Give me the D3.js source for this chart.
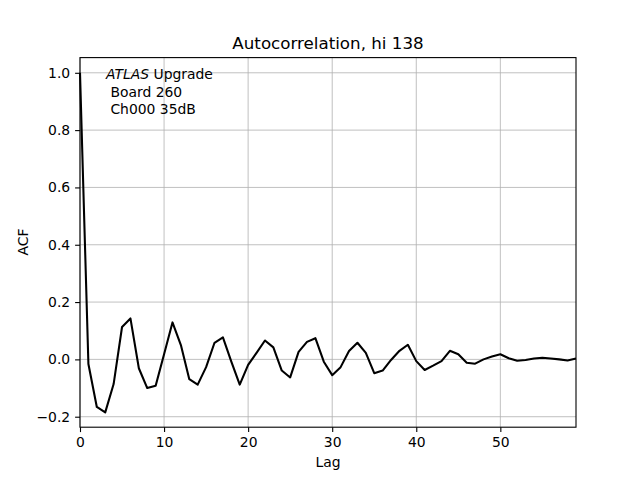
<!DOCTYPE html>
<html><head><meta charset="utf-8">
<script src="https://cdn.jsdelivr.net/npm/d3@7"></script>
<style>body{margin:0;background:#fff}svg{display:block}text{font-family:"DejaVu Sans",sans-serif}</style>
</head><body><svg id="c" width="640" height="480"></svg>
<script>
const lags = d3.range(0, 60);
const acf = [1.0, -0.016, -0.166, -0.185, -0.086, 0.113, 0.143, -0.031, -0.100, -0.092,
  0.018, 0.129, 0.050, -0.069, -0.088, -0.027, 0.058, 0.077, -0.008, -0.088,
  -0.019, 0.023, 0.066, 0.042, -0.039, -0.063, 0.026, 0.061, 0.074, -0.008,
  -0.055, -0.027, 0.029, 0.058, 0.023, -0.048, -0.039, -0.002, 0.030, 0.051,
  -0.006, -0.037, -0.022, -0.006, 0.030, 0.018, -0.012, -0.015, 0.000, 0.010,
  0.018, 0.004, -0.005, -0.002, 0.003, 0.006, 0.003, 0.000, -0.004, 0.003];
const xTicks = [0, 10, 20, 30, 40, 50];
const yTicks = [-0.2, 0.0, 0.2, 0.4, 0.6, 0.8, 1.0];
const title = "Autocorrelation, hi 138";
const annLines = ["Board 260", "Ch000 35dB"];

const L = 80, R = 576, T = 57.6, B = 427.2;
const svg = d3.select("#c");
const x = d3.scaleLinear().domain([0, 59]).range([L, R]);
const y = d3.scaleLinear().domain([-0.2366, 1.053]).range([B, T]);

// grid
const g = svg.append("g");
g.selectAll(".gx").data(xTicks).enter().append("line")
  .attr("x1", d => x(d)).attr("x2", d => x(d)).attr("y1", T).attr("y2", B)
  .attr("stroke", "#b0b0b0").attr("stroke-width", 0.8);
g.selectAll(".gy").data(yTicks).enter().append("line")
  .attr("y1", d => y(d)).attr("y2", d => y(d)).attr("x1", L).attr("x2", R)
  .attr("stroke", "#b0b0b0").attr("stroke-width", 0.8);

// line
const line = d3.line().x((d, i) => x(lags[i])).y(d => y(d));
svg.append("path").datum(acf).attr("d", line).attr("fill", "none")
  .attr("stroke", "#000").attr("stroke-width", 2.08).attr("stroke-linejoin", "round");

// axes
const xAxis = d3.axisBottom(x).tickValues(xTicks).tickSize(4.9).tickPadding(4.9).tickFormat(d3.format("d"));
const yAxis = d3.axisLeft(y).tickValues(yTicks).tickSize(4.9).tickPadding(4.9).tickFormat(d3.format(".1f"));
const gx = svg.append("g").attr("transform", `translate(0,${B})`).call(xAxis);
const gy = svg.append("g").attr("transform", `translate(${L},0)`).call(yAxis);
[gx, gy].forEach(a => {
  a.select(".domain").remove();
  a.selectAll("line").attr("stroke", "#000").attr("stroke-width", 1.1);
  a.selectAll("text").attr("font-size", 13.9).attr("fill", "#000").style("font-family", "DejaVu Sans");
});
gy.selectAll("text").text(d => d3.format(".1f")(d).replace("-", "\u2212"));

// frame
svg.append("rect").attr("x", L).attr("y", T).attr("width", R - L).attr("height", B - T)
  .attr("fill", "none").attr("stroke", "#000").attr("stroke-width", 1.1);

// title & labels
svg.append("text").attr("x", (L + R) / 2).attr("y", 49).attr("text-anchor", "middle")
  .attr("font-size", 16.7).text(title);
svg.append("text").attr("x", (L + R) / 2).attr("y", 467).attr("text-anchor", "middle")
  .attr("font-size", 13.9).text("Lag");
svg.append("text").attr("transform", "translate(28,242) rotate(-90)").attr("text-anchor", "middle")
  .attr("font-size", 13.9).text("ACF");

// annotation
const ann = svg.append("text").attr("x", 106).attr("y", 79).attr("font-size", 13.9);
ann.append("tspan").attr("font-style", "italic").text("ATLAS");
ann.append("tspan").text(" Upgrade");
annLines.forEach((t, i) => {
  svg.append("text").attr("x", 106).attr("y", 96.5 + i * 17).attr("font-size", 13.9)
    .attr("xml:space", "preserve").style("white-space", "pre").text(" " + t);
});
</script></body></html>
